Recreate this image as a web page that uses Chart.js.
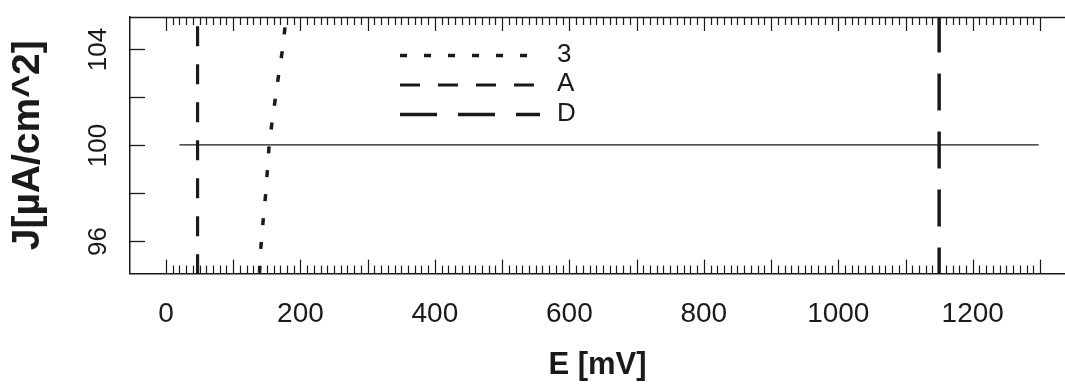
<!DOCTYPE html>
<html>
<head>
<meta charset="utf-8">
<script src="https://cdn.jsdelivr.net/npm/chart.js@4/dist/chart.umd.min.js"></script>
<style>
  html, body { margin: 0; padding: 0; background: #ffffff; }
  #wrap { width: 1065px; height: 387px; }
</style>
</head>
<body>
<div id="wrap"><canvas id="chart" width="1065" height="387"></canvas></div>
<script>
const FONT = '"Liberation Sans", Arial, Helvetica, sans-serif';
const INK = '#1a1a1a';

// Polarisation curve "3": potential E [mV] against current density J [µA/cm^2]
const curve3E = [177, 173.5, 168, 163, 158, 153.5, 151, 148.5, 145, 142, 140.5, 139];
const curve3J = [104.9, 104, 103, 102, 101, 100, 99, 98, 97, 96, 95.5, 94.6];

// Characteristic potentials A and D, drawn as vertical markers
const lineAE = [47, 47];
const lineAJ = [94.6, 105.4];
const lineDE = [1150, 1150];
const lineDJ = [105.4, 94.6];

// Reference current density J = 100
const refE = [20, 1298];
const refJ = [100, 100];

const seriesLabels = ['3', 'A', 'D'];
const xTickLabels = [0, 200, 400, 600, 800, 1000, 1200];
const yTickMarks = [96, 98, 100, 102, 104];
const yTickLabels = [96, 100, 104];

// Rug of potential marks along the top and bottom edges
const rugFrom = 0, rugTo = 1300, rugStep = 10, rugMajorEvery = 100;

const toPoints = (xs, ys) => xs.map((x, i) => ({ x: x, y: ys[i] }));

function segment(ctx, x1, y1, x2, y2) {
  ctx.beginPath();
  ctx.moveTo(x1, y1);
  ctx.lineTo(x2, y2);
  ctx.stroke();
}

const framePlugin = {
  id: 'frame',
  afterDraw(chart) {
    const { ctx, chartArea: a, scales: { x, y } } = chart;
    ctx.save();
    ctx.strokeStyle = INK;
    ctx.fillStyle = INK;
    ctx.setLineDash([]);

    // top edge of the plotting box
    ctx.lineWidth = 1.5;
    segment(ctx, a.left, a.top + 0.5, a.right, a.top + 0.5);

    // rug ticks, longer every 100 mV
    ctx.lineWidth = 1.2;
    for (let v = rugFrom; v <= rugTo; v += rugStep) {
      const px = Math.round(x.getPixelForValue(v)) + 0.5;
      const len = (v % rugMajorEvery === 0) ? 14 : 8;
      segment(ctx, px, a.bottom, px, a.bottom - len);
      segment(ctx, px, a.top, px, a.top + len);
    }

    // inward y ticks and rotated labels
    ctx.lineWidth = 1.3;
    ctx.font = '26px ' + FONT;
    ctx.textAlign = 'center';
    ctx.textBaseline = 'middle';
    y.ticks.forEach(t => {
      const py = Math.round(y.getPixelForValue(t.value)) + 0.5;
      segment(ctx, a.left, py, a.left + 15, py);
      if (yTickLabels.includes(t.value)) {
        ctx.save();
        ctx.translate(99, py);
        ctx.rotate(-Math.PI / 2);
        ctx.fillText(String(t.value), 0, 0);
        ctx.restore();
      }
    });

    // legend
    const rows = [54.5, 84, 113.5];
    ctx.font = '26px ' + FONT;
    ctx.textAlign = 'left';
    chart.data.datasets.slice(0, seriesLabels.length).forEach((ds, i) => {
      ctx.lineWidth = ds.borderWidth;
      ctx.setLineDash(ds.borderDash);
      segment(ctx, 400, rows[i] + 1, 540, rows[i] + 1);
      ctx.setLineDash([]);
      ctx.fillText(ds.label, 557, rows[i]);
    });
    ctx.restore();
  }
};

const lineStyle = { showLine: true, pointRadius: 0, borderColor: INK, fill: false };

new Chart(document.getElementById('chart'), {
  type: 'scatter',
  data: {
    datasets: [
      Object.assign({ label: seriesLabels[0], data: toPoints(curve3E, curve3J), borderWidth: 3.5, borderDash: [7, 17] }, lineStyle),
      Object.assign({ label: seriesLabels[1], data: toPoints(lineAE, lineAJ), borderWidth: 3.2, borderDash: [20, 18] }, lineStyle),
      Object.assign({ label: seriesLabels[2], data: toPoints(lineDE, lineDJ), borderWidth: 3.5, borderDash: [37, 21] }, lineStyle),
      Object.assign({ label: 'J = 100', data: toPoints(refE, refJ), borderWidth: 1.3, borderDash: [] }, lineStyle)
    ]
  },
  options: {
    responsive: false,
    animation: false,
    devicePixelRatio: 1,
    layout: { padding: { left: 0, top: 17, right: 0, bottom: 0 } },
    plugins: { legend: { display: false }, tooltip: { enabled: false } },
    scales: {
      x: {
        type: 'linear',
        min: -53.5,
        max: 1337.2,
        afterBuildTicks: scale => { scale.ticks = xTickLabels.map(v => ({ value: v })); },
        grid: { display: false, drawTicks: false },
        border: { display: true, color: INK, width: 1.5 },
        ticks: {
          autoSkip: false,
          maxRotation: 0,
          padding: 24,
          color: INK,
          font: { family: FONT, size: 28 },
          callback: v => String(v)
        },
        title: {
          display: true,
          text: 'E [mV]',
          color: INK,
          font: { family: FONT, size: 31, weight: 'bold' },
          padding: { top: -8.4, bottom: 3 }
        }
      },
      y: {
        type: 'linear',
        min: 94.625,
        max: 105.333,
        afterBuildTicks: scale => { scale.ticks = yTickMarks.map(v => ({ value: v })); },
        grid: { display: false, drawTicks: false },
        border: { display: true, color: INK, width: 1.5 },
        ticks: { display: false },
        title: {
          display: true,
          text: 'J[µA/cm^2]',
          color: INK,
          font: { family: FONT, size: 39, weight: 'bold' },
          padding: { top: 4.6, bottom: 78.6 }
        }
      }
    }
  },
  plugins: [framePlugin]
});
</script>
</body>
</html>
